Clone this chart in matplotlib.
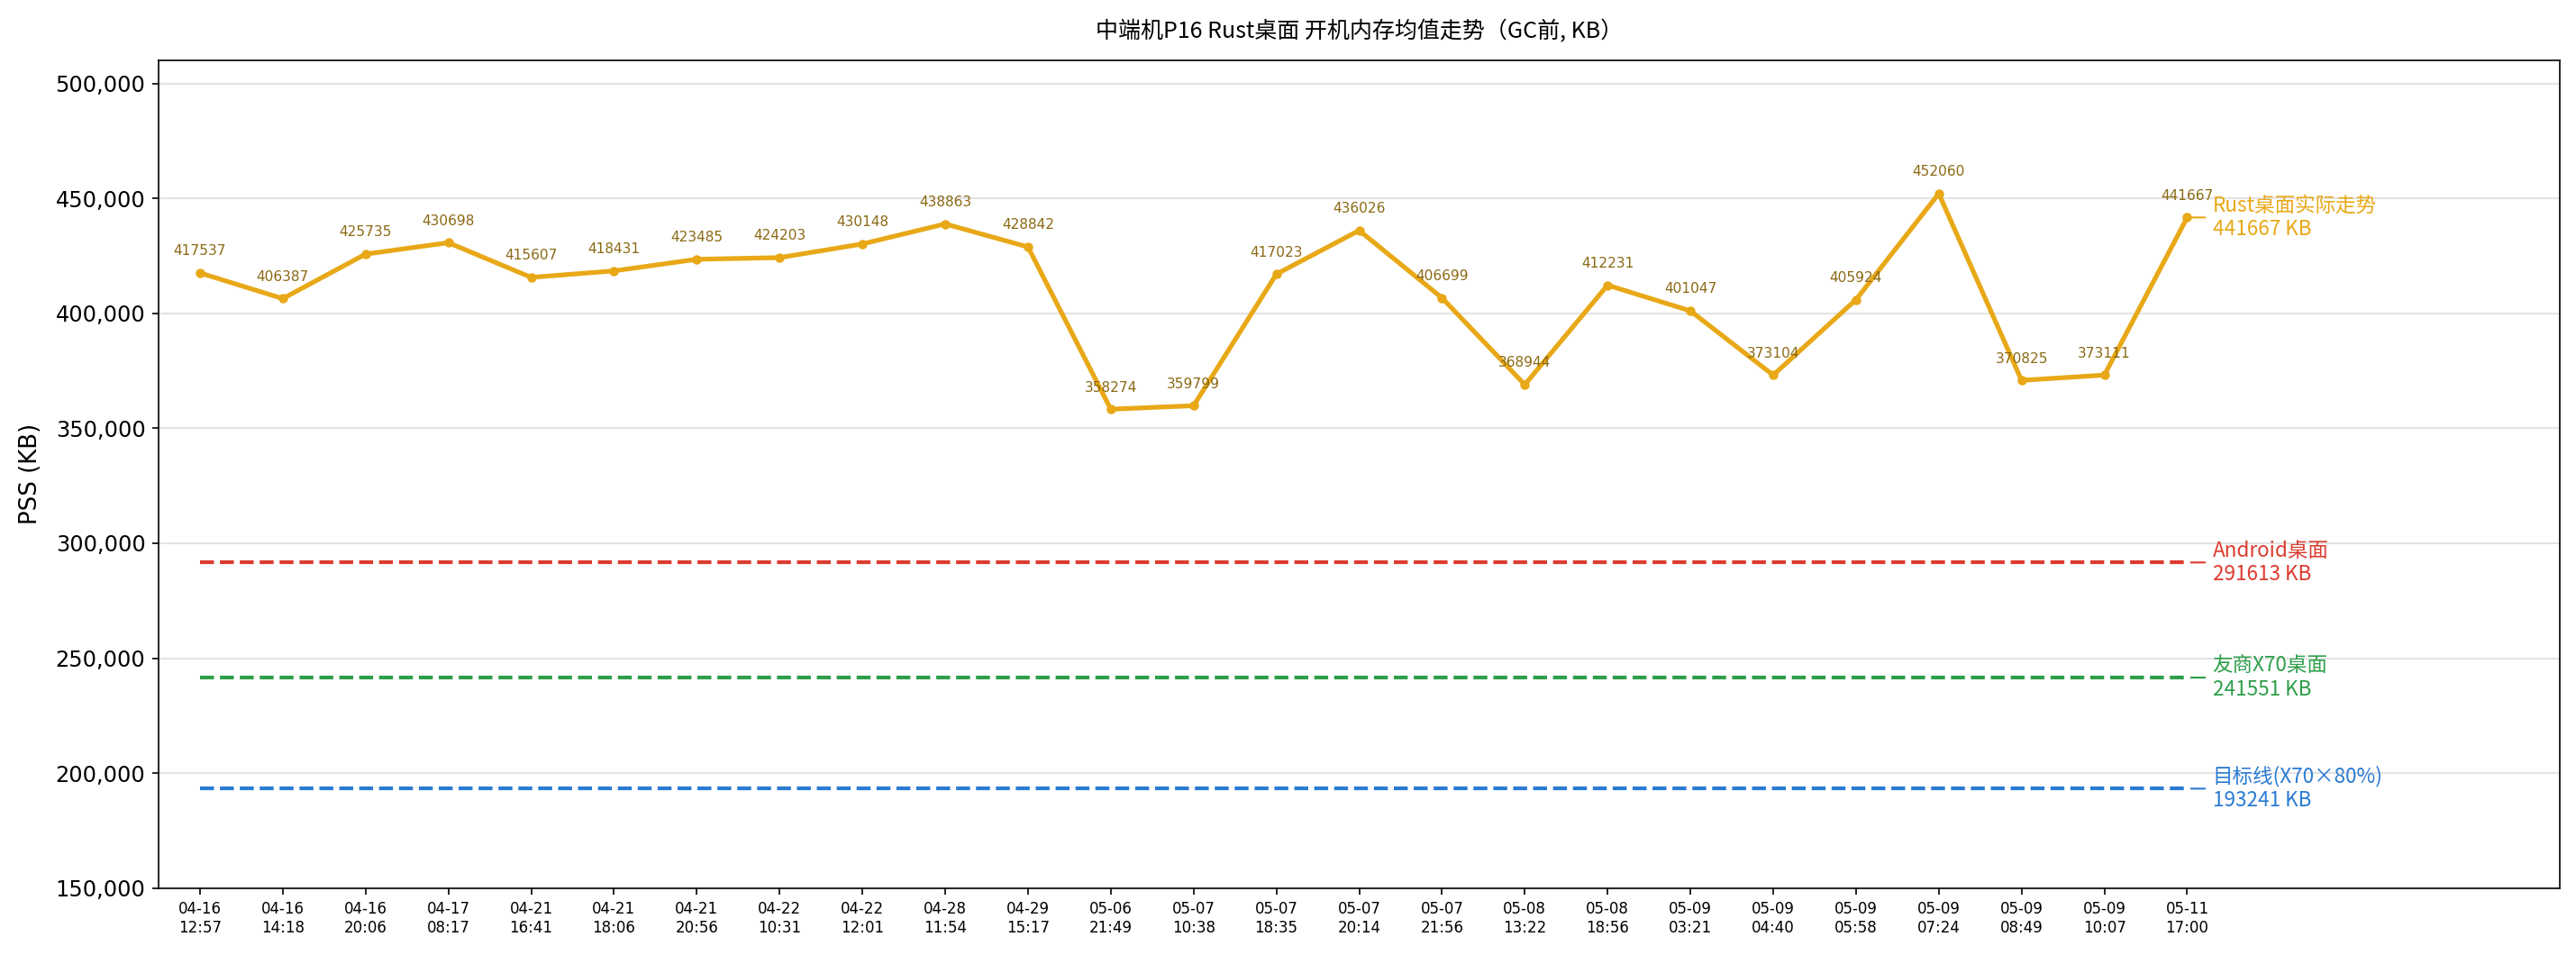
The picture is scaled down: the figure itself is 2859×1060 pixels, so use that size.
import matplotlib
matplotlib.use("Agg")
import matplotlib.pyplot as plt
from matplotlib.ticker import FuncFormatter

# data
dates = ["04-16\n12:57", "04-16\n14:18", "04-16\n20:06", "04-17\n08:17", "04-21\n16:41",
         "04-21\n18:06", "04-21\n20:56", "04-22\n10:31", "04-22\n12:01", "04-28\n11:54",
         "04-29\n15:17", "05-06\n21:49", "05-07\n10:38", "05-07\n18:35", "05-07\n20:14",
         "05-07\n21:56", "05-08\n13:22", "05-08\n18:56", "05-09\n03:21", "05-09\n04:40",
         "05-09\n05:58", "05-09\n07:24", "05-09\n08:49", "05-09\n10:07", "05-11\n17:00"]
pss = [417537, 406387, 425735, 430698, 415607, 418431, 423485, 424203, 430148, 438863,
       428842, 358274, 359799, 417023, 436026, 406699, 368944, 412231, 401047, 373104,
       405924, 452060, 370825, 373111, 441667]

ref_names = ["Android桌面", "友商X70桌面", "目标线(X70×80%)"]
ref_values = [291613, 241551, 193241]
ref_colors = ["#DC3B2F", "#2E9E4A", "#2A7BD4"]

rust_name = "Rust桌面实际走势"
rust_color = "#E8A817"
label_color = "#8B6914"
cjk = ["Noto Sans CJK SC", "DejaVu Sans"]

dpi = 150
fig = plt.figure(figsize=(2859 / dpi, 1060 / dpi), dpi=dpi)
ax = fig.add_axes([176 / 2859, 74.3 / 1060, 2665 / 2859, 918.7 / 1060])

x = list(range(len(pss)))
last = x[-1]

ax.grid(axis="y", color="#e3e3e3", lw=1)
ax.set_axisbelow(True)

for name, val, col in zip(ref_names, ref_values, ref_colors):
    ax.plot([0, last], [val, val], ls="--", color=col, lw=2)
    ax.annotate(f"{name}\n{val} KB", xy=(last, val), xytext=(13.5, 0),
                textcoords="offset points", ha="left", va="center",
                color=col, fontsize=10.8, family=cjk,
                arrowprops=dict(arrowstyle="-", color=col, lw=1))

ax.plot(x, pss, color=rust_color, lw=2.5, marker="o", markersize=4)
for xi, v in zip(x, pss):
    ax.annotate(str(v), xy=(xi, v), xytext=(0, 8), textcoords="offset points",
                ha="center", va="bottom", fontsize=7.4, color=label_color)
ax.annotate(f"{rust_name}\n{pss[-1]} KB", xy=(last, pss[-1]), xytext=(13.5, 0),
            textcoords="offset points", ha="left", va="center",
            color=rust_color, fontsize=10.8, family=cjk,
            arrowprops=dict(arrowstyle="-", color=rust_color, lw=1))

ax.set_xlim(-0.5, 28.5)
ax.set_ylim(150000, 510000)
ax.set_xticks(x)
ax.set_xticklabels(dates, fontsize=8)
ax.tick_params(axis="y", labelsize=11.5)
ax.yaxis.set_major_formatter(FuncFormatter(lambda v, p: f"{int(v):,}"))
ax.set_ylabel("PSS (KB)", fontsize=12.5, labelpad=7)
ax.set_title("中端机P16 Rust桌面 开机内存均值走势（GC前, KB）", fontsize=12,
             family=cjk, pad=12)

fig.savefig("out.png", dpi=dpi)
